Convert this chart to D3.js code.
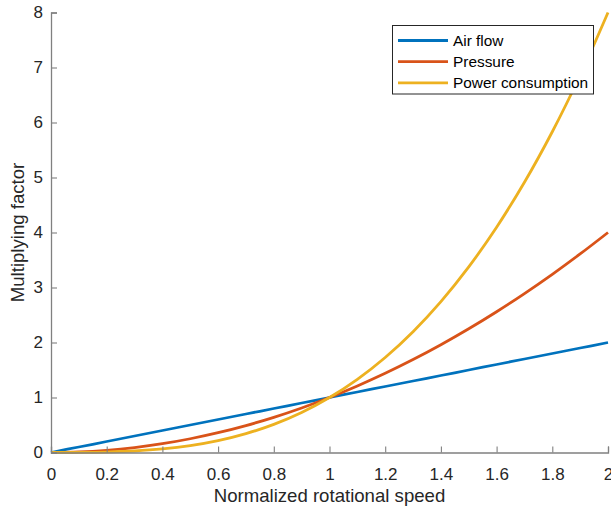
<!DOCTYPE html>
<html>
<head>
<meta charset="utf-8">
<script src="https://cdn.jsdelivr.net/npm/d3@7"></script>
<style>
  html, body { margin: 0; padding: 0; background: #fff; overflow: hidden; }
  svg { display: block; font-family: "Liberation Sans", Arial, Helvetica, sans-serif; }
</style>
</head>
<body>
<svg id="chart" width="611" height="508"></svg>
<script>
// Normalized rotational speed samples
const speed = [0, 0.1, 0.2, 0.3, 0.4, 0.5, 0.6, 0.7, 0.8, 0.9, 1.0,
               1.1, 1.2, 1.3, 1.4, 1.5, 1.6, 1.7, 1.8, 1.9, 2.0];
// Multiplying factors at each speed
const airFlow = [0, 0.1, 0.2, 0.3, 0.4, 0.5, 0.6, 0.7, 0.8, 0.9, 1.0,
                 1.1, 1.2, 1.3, 1.4, 1.5, 1.6, 1.7, 1.8, 1.9, 2.0];
const pressure = [0, 0.01, 0.04, 0.09, 0.16, 0.25, 0.36, 0.49, 0.64, 0.81, 1.0,
                  1.21, 1.44, 1.69, 1.96, 2.25, 2.56, 2.89, 3.24, 3.61, 4.0];
const power = [0, 0.001, 0.008, 0.027, 0.064, 0.125, 0.216, 0.343, 0.512, 0.729, 1.0,
               1.331, 1.728, 2.197, 2.744, 3.375, 4.096, 4.913, 5.832, 6.859, 8.0];

const seriesNames = ["Air flow", "Pressure", "Power consumption"];
const seriesValues = [airFlow, pressure, power];
const seriesColors = ["#0072BD", "#D95319", "#EDB120"];

const xTicks = [0, 0.2, 0.4, 0.6, 0.8, 1, 1.2, 1.4, 1.6, 1.8, 2];
const yTicks = [0, 1, 2, 3, 4, 5, 6, 7, 8];

const svg = d3.select("#chart");
const plotL = 51, plotR = 608, plotT = 12.5, plotB = 452.5;

const x = d3.scaleLinear().domain([0, 2]).range([plotL, plotR]);
const y = d3.scaleLinear().domain([0, 8]).range([plotB, plotT]);

const plot = svg.append("g");

// curves
const line = d3.line()
  .x((d, i) => x(speed[i]))
  .y(d => y(d))
  .curve(d3.curveCatmullRom.alpha(0.5));

seriesValues.forEach((vals, k) => {
  plot.append("path")
    .datum(vals)
    .attr("fill", "none")
    .attr("stroke", seriesColors[k])
    .attr("stroke-width", 2.8)
    .attr("stroke-linejoin", "round")
    .attr("d", line);
});

// axes
const axisColor = "#808080";
const textColor = "#262626";
const xAxis = d3.axisBottom(x).tickValues(xTicks).tickSize(-6).tickPadding(15)
  .tickFormat(d => d3.format("~g")(d));
const yAxis = d3.axisLeft(y).tickValues(yTicks).tickSize(-6).tickPadding(8)
  .tickFormat(d => d);

const gx = svg.append("g").attr("transform", `translate(0,${plotB})`).call(xAxis);
const gy = svg.append("g").attr("transform", `translate(${plotL},0)`).call(yAxis);
[gx, gy].forEach(g => {
  g.select(".domain").attr("stroke", axisColor).attr("stroke-width", 1.3);
  g.selectAll(".tick line").attr("stroke", axisColor).attr("stroke-width", 1.1);
  g.selectAll(".tick text").attr("fill", textColor).attr("font-size", 17)
    .attr("font-family", "Liberation Sans, Arial, sans-serif");
});

// axis titles
svg.append("text")
  .attr("x", (plotL + plotR) / 2).attr("y", 501.5)
  .attr("text-anchor", "middle").attr("fill", textColor).attr("font-size", 18.6)
  .text("Normalized rotational speed");
svg.append("text")
  .attr("transform", `translate(24,${(plotT + plotB) / 2}) rotate(-90)`)
  .attr("text-anchor", "middle").attr("fill", textColor).attr("font-size", 18.6)
  .text("Multiplying factor");

// legend
const lg = svg.append("g");
lg.append("rect").attr("x", 392.5).attr("y", 25.5).attr("width", 201).attr("height", 68.5)
  .attr("fill", "#fff").attr("stroke", "#262626").attr("stroke-width", 1);
seriesNames.forEach((name, k) => {
  const yy = 40.5 + k * 21.2;
  lg.append("line").attr("x1", 398).attr("x2", 448).attr("y1", yy).attr("y2", yy)
    .attr("stroke", seriesColors[k]).attr("stroke-width", 2.8);
  lg.append("text").attr("x", 453).attr("y", yy).attr("dy", "0.35em")
    .attr("fill", "#000").attr("font-size", 15.4).text(name);
});
</script>
</body>
</html>
